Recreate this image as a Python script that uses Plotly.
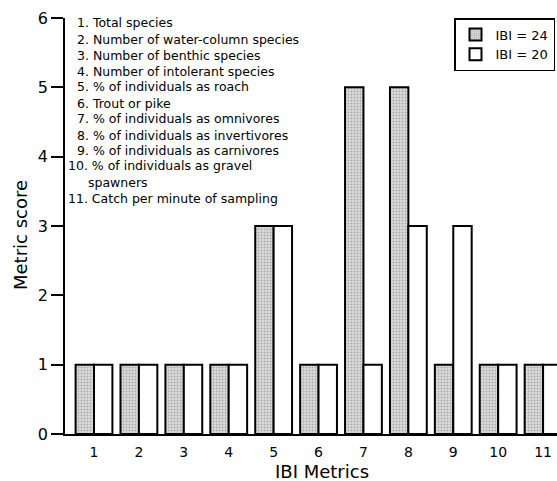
import plotly.graph_objects as go

metrics = [1, 2, 3, 4, 5, 6, 7, 8, 9, 10, 11]
ibi24 = [1, 1, 1, 1, 3, 1, 5, 5, 1, 1, 1]
ibi20 = [1, 1, 1, 1, 3, 1, 1, 3, 3, 1, 1]
metric_names = [
    "1. Total species",
    "2. Number of water-column species",
    "3. Number of benthic species",
    "4. Number of intolerant species",
    "5. % of individuals as roach",
    "6. Trout or pike",
    "7. % of individuals as omnivores",
    "8. % of individuals as invertivores",
    "9. % of individuals as carnivores",
    "10. % of individuals as gravel",
    "spawners",
    "11. Catch per minute of sampling",
]

FONT = "DejaVu Sans"
W, H = 557, 481
L, R, T, B = 65, 0, 18, 47
plot_w = W - L - R
plot_h = H - T - B

fig = go.Figure()
fig.add_trace(go.Bar(
    x=metrics, y=ibi24, name="IBI = 24",
    marker=dict(color="#d4d4d4", line=dict(color="black", width=2),
                pattern=dict(shape=".", fgcolor="#777777", bgcolor="#dcdcdc",
                             size=3, solidity=0.35)),
))
fig.add_trace(go.Bar(
    x=metrics, y=ibi20, name="IBI = 20",
    marker=dict(color="white", line=dict(color="black", width=2)),
))

line_y = [23, 39, 55, 71, 87, 103, 118, 135, 150, 166, 182, 198]
line_x = [75, 75, 75, 75, 75, 75, 75, 75, 75, 66, 86, 66]
for txt, ypx, xpx in zip(metric_names, line_y, line_x):
    fig.add_annotation(
        text=txt, xref="paper", yref="paper",
        x=(xpx - L) / plot_w, y=(H - B - ypx) / plot_h,
        xanchor="left", yanchor="middle", showarrow=False,
        font=dict(family=FONT, size=12.5, color="black"),
    )

# axis titles placed as annotations
fig.add_annotation(
    text="IBI Metrics", xref="paper", yref="paper",
    x=(322 - L) / plot_w, y=(H - B - 472) / plot_h,
    xanchor="center", yanchor="middle", showarrow=False,
    font=dict(family=FONT, size=18, color="black"),
)
fig.add_annotation(
    text="Metric score", xref="paper", yref="paper", textangle=-90,
    x=(20 - L) / plot_w, y=(H - B - 235) / plot_h,
    xanchor="center", yanchor="middle", showarrow=False,
    font=dict(family=FONT, size=18, color="black"),
)

fig.update_layout(
    width=W, height=H,
    margin=dict(l=L, r=R, t=T, b=B),
    paper_bgcolor="white", plot_bgcolor="white",
    barmode="group", bargap=0.18, bargroupgap=0,
    showlegend=True,
    legend=dict(x=(454 - L) / plot_w, y=1, xanchor="left", yanchor="top",
                bordercolor="black", borderwidth=1.5, bgcolor="white",
                font=dict(family=FONT, size=13, color="black"),
                tracegroupgap=0, itemwidth=30, entrywidth=110),
    font=dict(family=FONT, color="black"),
)
fig.update_xaxes(
    range=[0.354, 11.31], tickmode="array", tickvals=metrics,
    ticktext=[str(m) for m in metrics],
    showline=True, linecolor="black", linewidth=1.5,
    ticks="", showgrid=False, zeroline=False,
    tickfont=dict(family=FONT, size=14), ticklabelstandoff=4,
)
fig.update_yaxes(
    range=[0, 6], tickvals=[0, 1, 2, 3, 4, 5, 6],
    showline=True, linecolor="black", linewidth=1.5,
    ticks="outside", ticklen=12, tickwidth=1.5, tickcolor="black",
    showgrid=False, zeroline=False,
    tickfont=dict(family=FONT, size=16), ticklabelstandoff=0,
)

fig.write_html("out.html")
